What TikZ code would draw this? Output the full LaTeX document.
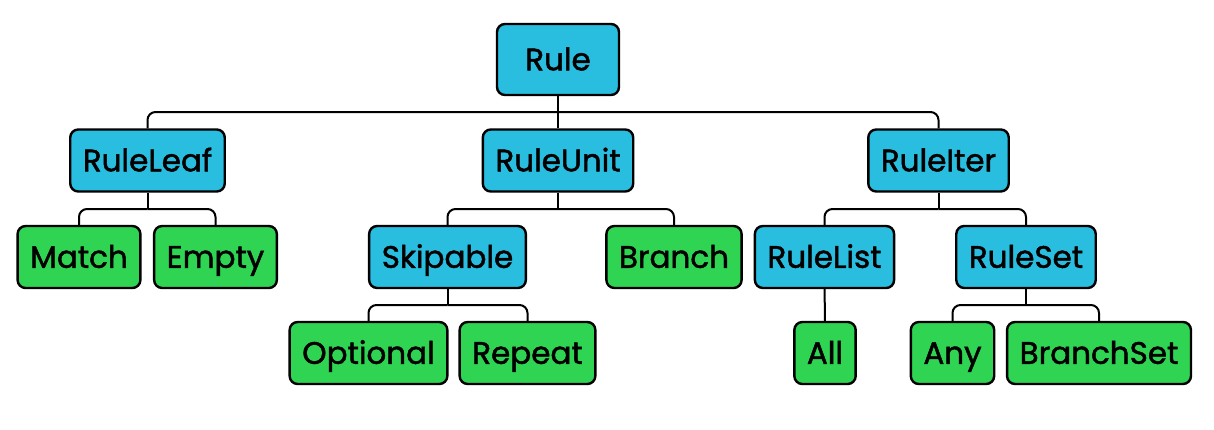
\documentclass[tikz,border=0pt]{standalone}
\usepackage{fontspec}
\setmainfont{Poppins}[FakeBold=1.5]
\usetikzlibrary{calc}
\definecolor{typeblue}{RGB}{41,189,224}
\definecolor{leafgreen}{RGB}{46,212,82}

\begin{document}
\begin{tikzpicture}[x=0.5pt,y=-0.5pt, every node/.style={font=\fontsize{15.5}{17}\selectfont},
    typebox/.style={draw, line width=1.2pt, rounded corners=4pt, fill=typeblue, minimum height=31pt, inner xsep=6.3pt, text height=10.8pt, text depth=0pt},
    leafbox/.style={draw, line width=1.2pt, rounded corners=4pt, fill=leafgreen, minimum height=31pt, inner xsep=6.3pt, text height=10.8pt, text depth=0pt},
    conn/.style={line width=1pt, rounded corners=4pt}]
    \useasboundingbox (0,0) rectangle (1214,429);
    \node[typebox, minimum width=61pt, minimum height=35.5pt] (rule) at (558,59.5) {Rule};
    \node[typebox] (ruleleaf) at (147.5,160.5) {RuleLeaf};
    \node[typebox] (ruleunit) at (558,160.5) {RuleUnit};
    \node[typebox] (ruleiter) at (938.5,160.5) {RuleIter};
    \node[leafbox] (match) at (79,257) {Match};
    \node[leafbox] (empty) at (215.5,257) {Empty};
    \node[typebox] (skipable) at (447.5,257) {Skipable};
    \node[leafbox] (branch) at (674,257) {Branch};
    \node[typebox] (rulelist) at (824.5,257) {RuleList};
    \node[typebox] (ruleset) at (1026,257) {RuleSet};
    \node[leafbox] (optional) at (368.5,353) {Optional};
    \node[leafbox] (repeat) at (527.5,353) {Repeat};
    \node[leafbox] (all) at (825,353) {All};
    \node[leafbox] (any) at (952.5,353) {Any};
    \node[leafbox] (branchset) at (1099,353) {BranchSet};
    % bus points
    \coordinate (rulebus) at (558,112);
    \coordinate (leafbus) at (147.5,209);
    \coordinate (unitbus) at (558,209);
    \coordinate (iterbus) at (938.5,209);
    \coordinate (skipbus) at (447.5,305);
    \coordinate (setbus) at (1026,305);
    \draw[conn] (rule) -- (rulebus);
    \draw[conn] (rulebus) -| (ruleleaf);
    \draw[conn] (rulebus) -- (ruleunit);
    \draw[conn] (rulebus) -| (ruleiter);
    \draw[conn] (ruleleaf) -- (leafbus);
    \draw[conn] (leafbus) -| (match);
    \draw[conn] (leafbus) -| (empty);
    \draw[conn] (ruleunit) -- (unitbus);
    \draw[conn] (unitbus) -| (skipable);
    \draw[conn] (unitbus) -| (branch);
    \draw[conn] (ruleiter) -- (iterbus);
    \draw[conn] (iterbus) -| (rulelist);
    \draw[conn] (iterbus) -| (ruleset);
    \draw[conn] (skipable) -- (skipbus);
    \draw[conn] (skipbus) -| (optional);
    \draw[conn] (skipbus) -| (repeat);
    \draw[conn] (rulelist) -- (all);
    \draw[conn] (ruleset) -- (setbus);
    \draw[conn] (setbus) -| (any);
    \draw[conn] (setbus) -| (branchset);
\end{tikzpicture}
\end{document}
